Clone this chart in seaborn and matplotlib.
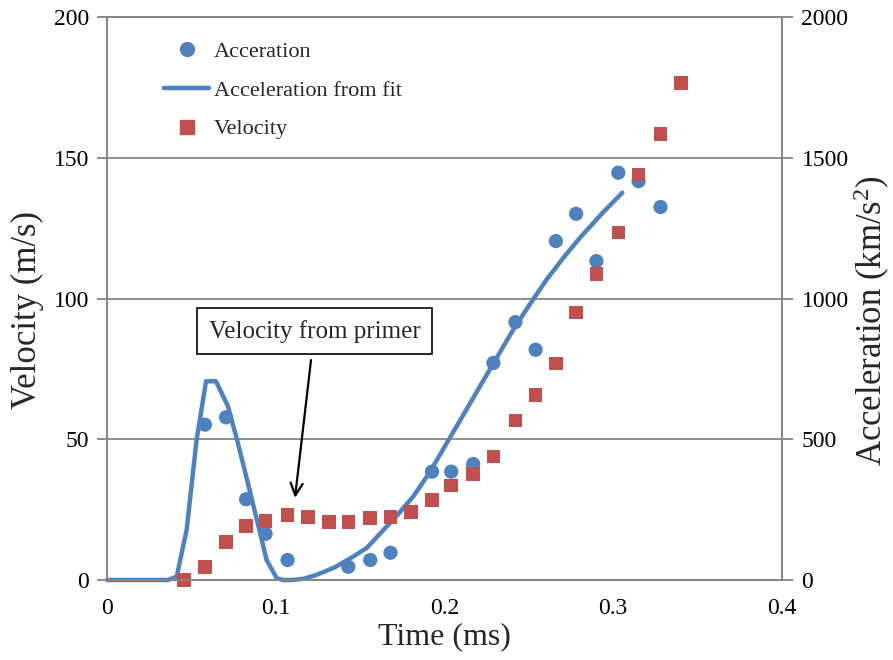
import matplotlib
matplotlib.use("Agg")
import matplotlib.pyplot as plt
import pandas as pd
import seaborn as sns
from matplotlib.lines import Line2D

# measured velocity (m/s)
time_vel = [0.0456, 0.058, 0.0705, 0.0824, 0.094, 0.107, 0.119, 0.1315, 0.143, 0.156,
            0.168, 0.180, 0.1926, 0.204, 0.217, 0.229, 0.242, 0.254, 0.266, 0.278,
            0.290, 0.303, 0.315, 0.328, 0.340]
velocity = [0, 4.6, 13.5, 19.2, 21.0, 23.1, 22.4, 20.6, 20.6, 22.0,
            22.4, 24.2, 28.5, 33.5, 37.7, 43.8, 56.6, 65.8, 76.9, 95.0,
            108.7, 123.5, 144.1, 158.4, 176.5]

# measured acceleration (km/s^2)
time_acc = [0.058, 0.0705, 0.0824, 0.094, 0.107, 0.143, 0.156, 0.168, 0.1926, 0.204,
            0.217, 0.229, 0.242, 0.254, 0.266, 0.278, 0.290, 0.303, 0.315, 0.328]
acceleration = [552, 578, 287, 164, 71, 47, 71, 97, 385, 385,
                412, 771, 916, 818, 1204, 1301, 1133, 1447, 1417, 1325]

# acceleration from fit
time_fit = [0.0, 0.036, 0.0413, 0.0472, 0.0531, 0.0587, 0.0646, 0.0717, 0.077, 0.083,
            0.089, 0.0946, 0.1005, 0.104, 0.110, 0.117, 0.124, 0.135, 0.145, 0.154,
            0.162, 0.172, 0.1815, 0.191, 0.2013, 0.211, 0.221, 0.231, 0.2408, 0.2506,
            0.2606, 0.2705, 0.2803, 0.293, 0.3054]
acc_fit = [0, 0, 12, 178, 498, 706, 706, 617, 500, 356,
           210, 71, 7, 0, 0, 5, 18, 45, 80, 114,
           166, 230, 297, 380, 486, 585, 688, 790, 890, 980,
           1068, 1145, 1216, 1300, 1376]

x_ticks = [0, 0.1, 0.2, 0.3, 0.4]
x_tick_labels = ["0", "0.1", "0.2", "0.3", "0.4"]
vel_ticks = [0, 50, 100, 150, 200]
acc_ticks = [0, 500, 1000, 1500, 2000]

BLUE = "#4F81BD"
RED = "#C0504D"
GREY = "#868686"

sns.set_style("white")
plt.rcParams["font.family"] = ["Liberation Serif", "DejaVu Serif"]
plt.rcParams["mathtext.fontset"] = "custom"
plt.rcParams["mathtext.rm"] = "Liberation Serif"
plt.rcParams["mathtext.it"] = "Liberation Serif:italic"

fit_df = pd.DataFrame({"time": time_fit, "acc": acc_fit})

fig, ax = plt.subplots(figsize=(8.93, 6.6), dpi=100)
fig.subplots_adjust(left=0.1198, right=0.8757, bottom=0.1212, top=0.9742)
ax2 = ax.twinx()

sns.lineplot(data=fit_df, x="time", y="acc", ax=ax2, color=BLUE, lw=3.2,
             estimator=None, sort=False, clip_on=False)
sns.scatterplot(x=time_acc, y=acceleration, ax=ax2, color=BLUE, marker="o",
                s=105, edgecolor="none", clip_on=False)
sns.scatterplot(x=time_vel, y=velocity, ax=ax, color=RED, marker="s",
                s=95, edgecolor="none", clip_on=False)

# velocity axes on top of the acceleration axes
ax.set_zorder(ax2.get_zorder() + 1)
ax.patch.set_visible(False)

ax.set_xlim(0, 0.4)
ax.set_ylim(0, 200)
ax2.set_ylim(0, 2000)
ax.set_xticks(x_ticks, x_tick_labels)
ax.set_yticks(vel_ticks)
ax2.set_yticks(acc_ticks)

ax2.yaxis.grid(True, color=GREY, lw=1.3)
for a in (ax, ax2):
    for sp in a.spines.values():
        sp.set_color(GREY)
        sp.set_linewidth(1.3)

ax.tick_params(axis="x", direction="inout", length=10, width=1.3, color=GREY,
               labelsize=17, pad=8, labelcolor="black")
ax.tick_params(axis="y", direction="out", length=7, width=1.3, color=GREY,
               labelsize=17, pad=6, labelcolor="black")
ax2.tick_params(axis="y", direction="out", length=8, width=1.3, color=GREY,
                labelsize=17, pad=6, labelcolor="black")

ax.set_xlabel("Time (ms)", fontsize=23, labelpad=2)
ax.set_ylabel("Velocity (m/s)", fontsize=25)
ax.yaxis.set_label_coords(-0.093, 0.48)
ax2.set_ylabel("Acceleration (km/s$^{\\mathrm{2}}$)", fontsize=25)
ax2.yaxis.set_label_coords(1.104, 0.46)

handles = [
    Line2D([], [], marker="o", ls="none", color=BLUE, ms=10),
    Line2D([], [], color=BLUE, lw=3.2),
    Line2D([], [], marker="s", ls="none", color=RED, ms=9.5),
]
ax.legend(handles, ["Acceration", "Acceleration from fit", "Velocity"],
          loc="upper left", bbox_to_anchor=(0.085, 0.957), frameon=False,
          fontsize=16, handlelength=2.0, handletextpad=0.22, labelspacing=0.82,
          borderaxespad=0, borderpad=0)

ax.annotate("Velocity from primer", xy=(0.1114, 29.2), xytext=(0.1229, 88.4),
            fontsize=18, ha="center", va="center",
            bbox=dict(boxstyle="square,pad=0.45", fc="white", ec="black", lw=1.2),
            arrowprops=dict(arrowstyle="->", color="black", lw=1.6,
                            mutation_scale=22, shrinkA=4, shrinkB=0))

fig.savefig("out.png", dpi=100)
